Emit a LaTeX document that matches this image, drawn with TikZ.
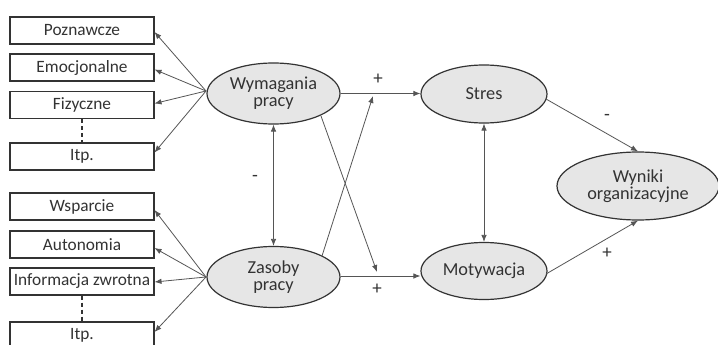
\documentclass[tikz,border=0pt]{standalone}
\usepackage{fontspec}
\setmainfont{Carlito}
\usetikzlibrary{arrows.meta,shapes.geometric}
\definecolor{ellfill}{HTML}{E6E6E6}
\definecolor{linegray}{HTML}{555555}
\definecolor{edgedark}{HTML}{333333}
\tikzset{
  box/.style={draw=edgedark, line width=1.2pt, minimum width=144pt, minimum height=27pt, inner sep=0pt, font=\fontsize{17.3}{19}\selectfont, text=edgedark},
  ell/.style={ellipse, draw=edgedark, line width=1.2pt, fill=ellfill, inner sep=0pt, align=center, font=\fontsize{18.3}{17}\selectfont, text=edgedark},
  conn/.style={draw=linegray, line width=0.8pt, -{Latex[length=7pt,width=5.5pt]}},
  dconn/.style={draw=linegray, line width=0.8pt, {Latex[length=7pt,width=5.5pt]}-{Latex[length=7pt,width=5.5pt]}},
  sign/.style={font=\fontsize{19}{19}\selectfont, text=edgedark, inner sep=0pt},
}
\begin{document}
\begin{tikzpicture}[x=1pt,y=-1pt]
\useasboundingbox (0,0) rectangle (718,345);
\clip (0,0) rectangle (718,345);
\fill[white] (0,0) rectangle (718,345);
% left boxes
\node[box] (poz) at (82,30.5) {Poznawcze};
\node[box] (emo) at (82,67.5) {Emocjonalne};
\node[box] (fiz) at (82,105) {Fizyczne};
\node[box] (itp1) at (82,156.5) {Itp.};
\node[box] (wsp) at (82,206.5) {Wsparcie};
\node[box] (aut) at (82,244.5) {Autonomia};
\node[box] (inf) at (82,281.5) {Informacja zwrotna};
\node[box] (itp2) at (82,335.5) {Itp.};
\draw[edgedark, line width=1.2pt, dash pattern=on 4pt off 3pt] (fiz.south) -- (itp1.north);
\draw[edgedark, line width=1.2pt, dash pattern=on 4pt off 3pt] (inf.south) -- (itp2.north);
% ellipses
\node[ell, minimum width=133pt, minimum height=61pt] (wym) at (273.5,93.5) {Wymagania\\pracy};
\node[ell, minimum width=133pt, minimum height=61pt] (zas) at (273.5,277) {Zasoby\\pracy};
\node[ell, minimum width=126pt, minimum height=58pt] (str) at (484,94) {Stres};
\node[ell, minimum width=126pt, minimum height=57pt] (mot) at (484,271) {Motywacja};
\node[ell, minimum width=162pt, minimum height=68pt] (wyn) at (638,186) {Wyniki\\organizacyjne};
% coordinates
\coordinate (wl) at (206,91);
\coordinate (zl) at (206,277);
\coordinate (a1) at (154.5,32);
\coordinate (a2) at (154.5,69.5);
\coordinate (a3) at (154.5,103.5);
\coordinate (a4) at (154.5,152.5);
\coordinate (b1) at (154.5,210);
\coordinate (b2) at (154.5,248);
\coordinate (b3) at (154.5,282);
\coordinate (b4) at (154.5,332);
\draw[conn] (wl) -- (a1);
\draw[conn] (wl) -- (a2);
\draw[conn] (wl) -- (a3);
\draw[conn] (wl) -- (a4);
\draw[conn] (zl) -- (b1);
\draw[conn] (zl) -- (b2);
\draw[conn] (zl) -- (b3);
\draw[conn] (zl) -- (b4);
% main arrows
\coordinate (ml) at (421,276);
\draw[conn] (wym.east) -- (str.west |- wym.east);
\draw[conn] (zas.east |- ml) -- (mot.west |- ml);
\coordinate (x1s) at (322,256);
\coordinate (x1e) at (373,96);
\coordinate (x2s) at (321,116);
\coordinate (x2e) at (377,272);
\draw[conn] (x1s) -- (x1e);
\draw[conn] (x2s) -- (x2e);
\draw[dconn] (wym.south) -- (zas.north);
\draw[dconn] (str.south) -- (mot.north);
\coordinate (sr) at (546,99);
\coordinate (mr) at (546,274);
\draw[conn] (sr) -- (wyn.north);
\draw[conn] (mr) -- (wyn.south);
% signs
\node[sign] (p1) at (378,79) {+};
\node[sign] (p2) at (377,289) {+};
\node[sign] (m1) at (255,178) {-};
\node[sign] (m2) at (607,117) {-};
\node[sign] (p3) at (607,253) {+};
\end{tikzpicture}
\end{document}
